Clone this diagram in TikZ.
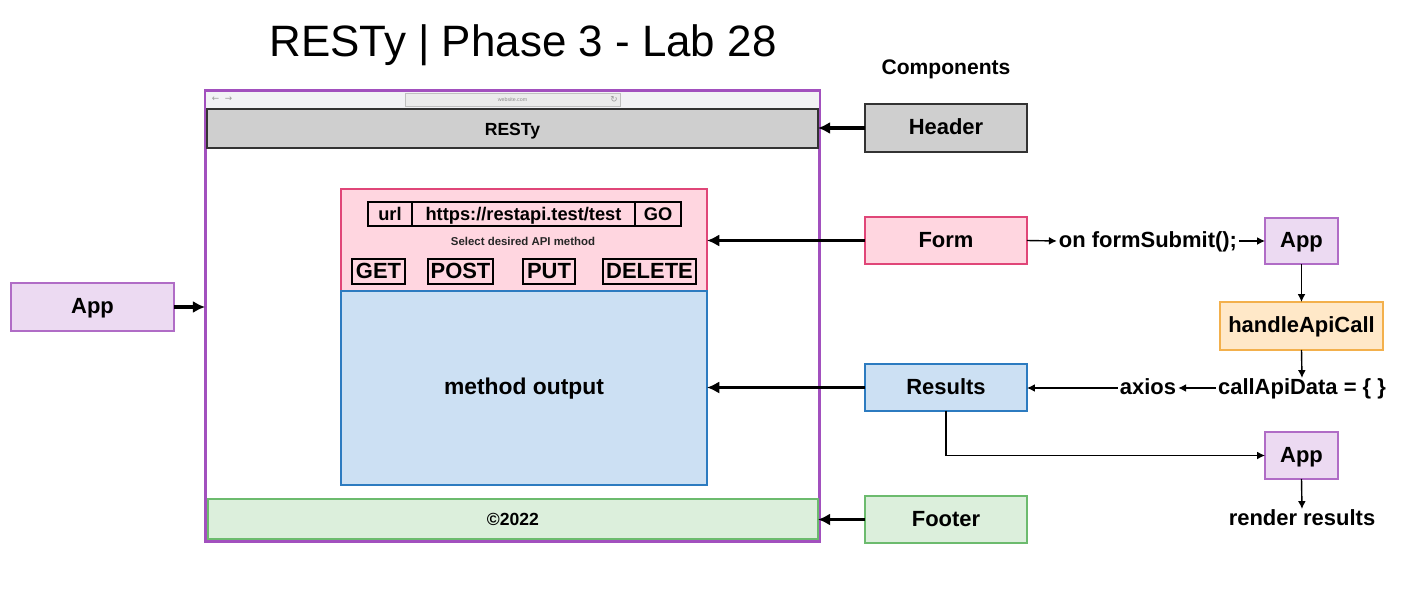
\documentclass[tikz,border=0pt]{standalone}
\usepackage{fontspec}
\setmainfont{Liberation Sans}
\newfontfamily\symfont{DejaVu Sans}
\usetikzlibrary{arrows.meta}
\definecolor{framepurple}{RGB}{162,80,190}
\definecolor{apppurple}{RGB}{176,108,198}
\definecolor{appfill}{RGB}{236,218,242}
\definecolor{formred}{RGB}{224,70,120}
\definecolor{formfill}{RGB}{255,214,224}
\definecolor{resblue}{RGB}{44,123,192}
\definecolor{resfill}{RGB}{204,224,243}
\definecolor{footgreen}{RGB}{108,187,110}
\definecolor{footfill}{RGB}{220,239,220}
\definecolor{callorange}{RGB}{243,176,76}
\definecolor{callfill}{RGB}{255,232,200}
\definecolor{headgray}{RGB}{207,207,207}
\definecolor{bargray}{RGB}{242,242,245}

\begin{document}
\begin{tikzpicture}[x=0.02cm,y=-0.02cm,
	box/.style={draw,line width=0.9pt,inner sep=0pt,outer sep=0pt,text height=1.6ex,text depth=0.1ex,font=\fontsize{12.5}{14}\selectfont\bfseries},
	btn/.style={draw,line width=1.1pt,inner sep=1.5pt,text height=1.6ex,text depth=0.1ex,font=\fontsize{12.5}{14}\selectfont\bfseries},
	lbl/.style={inner sep=1pt,text height=1.6ex,text depth=0.1ex,font=\fontsize{12.5}{14}\selectfont\bfseries},
	thick arrow/.style={-{Latex[length=7pt,width=7pt]},line width=1.8pt},
	thin arrow/.style={-{Latex[length=4.5pt,width=4.5pt]},line width=0.8pt}]

	\useasboundingbox (0,0) rectangle (1411,605);

	\node[font=\fontsize{25}{30}\selectfont] (title) at (523,45) {RESTy | Phase 3 - Lab 28};
	\node[font=\fontsize{12}{14}\selectfont\bfseries] (comps) at (946,69) {Components};

	% browser window
	\node[draw=framepurple,line width=1.7pt,minimum width=12.3cm,minimum height=9.04cm,inner sep=0pt,outer sep=0pt] (frame) at (512.5,316) {};
	\fill[bargray] (206,92) rectangle (819,108);
	\draw[black!25,fill=black!8,line width=0.3pt] (405,93) rectangle (620,106);
	\node[text=black!45,font=\fontsize{3}{3}\selectfont] at (512.5,99.5) {website.com};
	\node[text=black!40,font=\fontsize{5}{5}\selectfont\symfont] at (222,99.5) {← \ →};
	\node[text=black!40,font=\fontsize{5}{5}\selectfont\symfont] at (614,99.5) {↻};

	\node[box,fill=headgray,draw=black!80,line width=1.1pt,minimum width=12.22cm,minimum height=0.78cm,font=\fontsize{10}{12}\selectfont\bfseries] (bar) at (512.5,128.5) {RESTy};

	\node[box,fill=formfill,draw=formred,minimum width=7.32cm,minimum height=2.04cm] (formpanel) at (524,240) {};
	\node[box,fill=resfill,draw=resblue,minimum width=7.32cm,minimum height=3.88cm,font=\fontsize{13}{15}\selectfont\bfseries] (output) at (524,388) {method output};

	\node[box,minimum width=0.88cm,minimum height=0.48cm,font=\fontsize{10.4}{12}\selectfont\bfseries] (urlkey) at (390,214) {url};
	\node[box,minimum width=4.46cm,minimum height=0.48cm,font=\fontsize{10.4}{12}\selectfont\bfseries] (urlval) at (523.5,214) {https://restapi.test/test};
	\node[box,minimum width=0.92cm,minimum height=0.48cm,font=\fontsize{10.4}{12}\selectfont\bfseries] (go) at (658,214) {GO};
	\node[font=\fontsize{6.5}{8}\selectfont\bfseries,text=black!85] (select) at (523,241) {Select desired API method};

	\node[btn,minimum width=1.06cm,minimum height=0.5cm] (get) at (378.5,271.5) {GET};
	\node[btn,minimum width=1.3cm,minimum height=0.5cm] (post) at (460.5,271.5) {POST};
	\node[btn,minimum width=1.04cm,minimum height=0.5cm] (put) at (549,271.5) {PUT};
	\node[btn,minimum width=1.86cm,minimum height=0.5cm] (delete) at (649.5,271.5) {DELETE};

	\node[box,fill=footfill,draw=footgreen,line width=1.1pt,minimum width=12.2cm,minimum height=0.8cm,font=\fontsize{10}{12}\selectfont\bfseries] (footbar) at (513,519) {©2022};

	% components
	\node[box,fill=headgray,draw=black!80,minimum width=3.24cm,minimum height=0.96cm] (header) at (946,128) {Header};
	\node[box,fill=formfill,draw=formred,minimum width=3.24cm,minimum height=0.94cm] (form) at (946,240.5) {Form};
	\node[box,fill=resfill,draw=resblue,minimum width=3.24cm,minimum height=0.94cm] (results) at (946,387.5) {Results};
	\node[box,fill=footfill,draw=footgreen,minimum width=3.24cm,minimum height=0.94cm] (footer) at (946,519.5) {Footer};
	\node[box,fill=appfill,draw=apppurple,minimum width=3.26cm,minimum height=0.96cm] (appleft) at (92.5,307) {App};

	\draw[thick arrow] (header.west) -- (header.west -| bar.east);
	\draw[thick arrow] (form.west) -- (form.west -| formpanel.east);
	\draw[thick arrow] (results.west) -- (results.west -| output.east);
	\draw[thick arrow] (footer.west) -- (footer.west -| footbar.east);
	\draw[thick arrow] (appleft.east) -- (appleft.east -| frame.west);

	% data flow
	\node[lbl] (submit) at (1148,241) {on formSubmit();};
	\node[box,fill=appfill,draw=apppurple,minimum width=1.46cm,minimum height=0.92cm] (appone) at (1301.5,241) {App};
	\node[box,fill=callfill,draw=callorange,minimum width=3.26cm,minimum height=0.96cm] (handle) at (1301.5,326) {handleApiCall};
	\node[lbl] (calldata) at (1302,388) {callApiData = \{ \}};
	\node[lbl] (axios) at (1148,388) {axios};
	\node[box,fill=appfill,draw=apppurple,minimum width=1.46cm,minimum height=0.94cm] (apptwo) at (1301.5,455.5) {App};
	\node[lbl] (render) at (1302,519) {render results};

	\draw[thin arrow] (form.east) -- (submit.west);
	\draw[thin arrow] (submit.east) -- (appone.west);
	\draw[thin arrow] (appone.south) -- (handle.north);
	\draw[thin arrow] (handle.south) -- (calldata.north);
	\draw[thin arrow] (calldata.west) -- (axios.east);
	\draw[thin arrow] (axios.west) -- (axios.west -| results.east);
	\draw[thin arrow] (results.south) |- (apptwo.west);
	\draw[thin arrow] (apptwo.south) -- (render.north);

\end{tikzpicture}
\end{document}
